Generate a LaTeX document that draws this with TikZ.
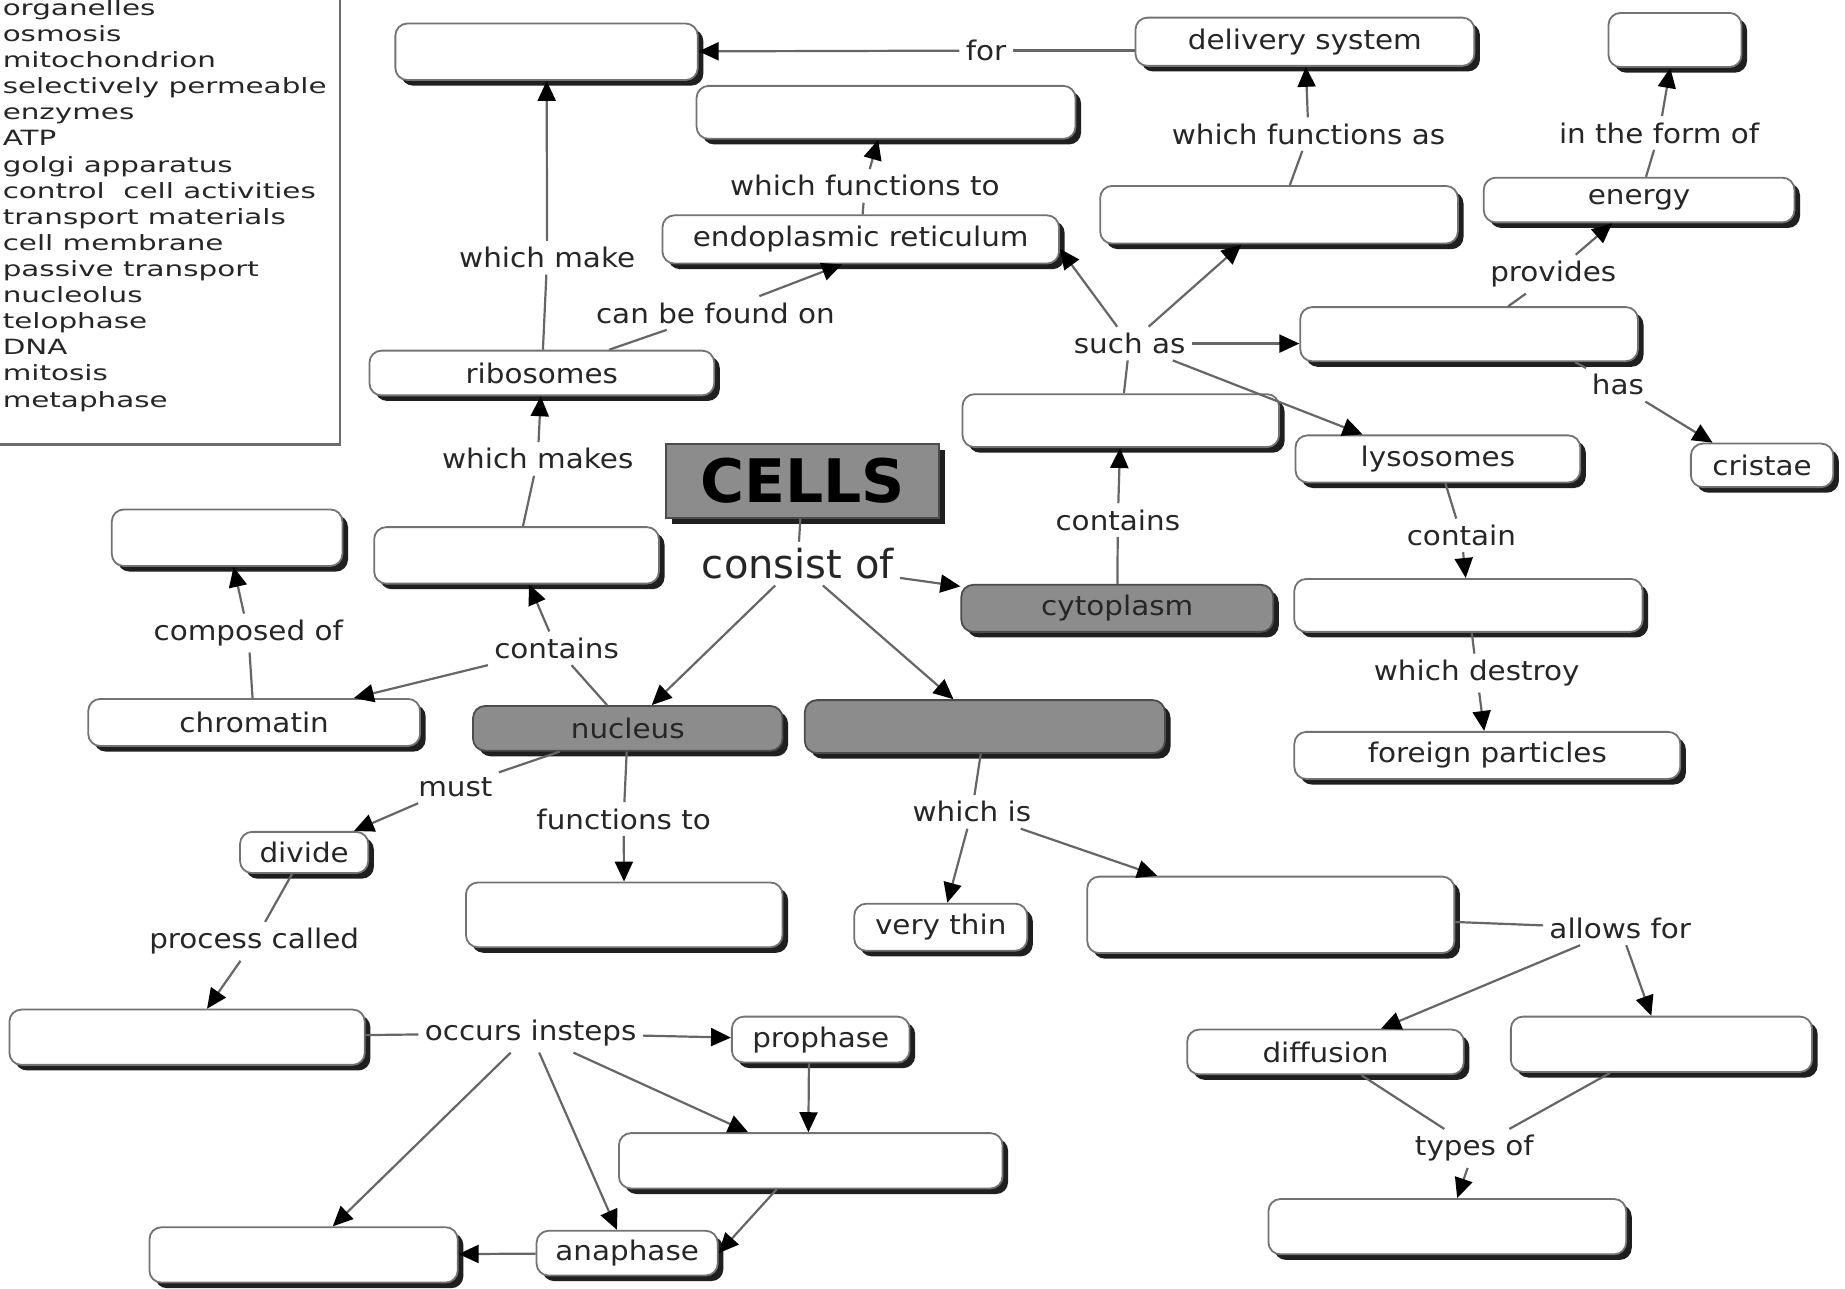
\documentclass[tikz,border=0pt]{standalone}
\usepackage{fontspec}
\usetikzlibrary{arrows.meta,shadows,calc}
\newfontfamily\lf[FakeStretch=1.09]{DejaVu Sans}
\newfontfamily\wlf[FakeStretch=1.4]{DejaVu Sans}
\newfontfamily\df{DejaVu Sans}
\newcommand\bx[7][box]{\node[#1, minimum width={(#5-#3)*0.5883pt}, minimum height={(#6-#4)*0.5883pt}] (#2) at ({(#3+#5)/2},{(#4+#6)/2}) {#7};}
\newcommand\lbn[4]{\node[lbl] (#1) at (#2,#3) {#4};}
\begin{document}
\begin{tikzpicture}[x=0.5883pt, y=-0.5883pt,
  box/.style={draw=black!55, line width=0.9pt, rounded corners=6pt, fill=white, inner sep=0pt,
    general shadow={fill=black!88, shadow xshift=2.8pt, shadow yshift=-2.8pt},
    font=\lf\fontsize{13.5}{15}\selectfont, text=black!85},
  gbox/.style={box, fill=black!45, draw=black!70},
  lbl/.style={font=\lf\fontsize{13.5}{15}\selectfont, text=black!85, inner sep=3pt},
  wl/.style={font=\wlf\fontsize{10.5}{12}\selectfont, text=black!85, inner sep=0pt},
  ln/.style={draw=black!60, line width=1.1pt},
  arr/.style={ln, -{Triangle[length=10pt,width=9pt,color=black]}}]
\useasboundingbox (0,0) rectangle (1568,1095);
\fill[white] (0,0) rectangle (1568,1095);
% word list
\draw[draw=black!58, line width=1.4pt] (-10,-10) rectangle (289,378);
\foreach \t [count=\i] in {organelles, osmosis, mitochondrion, selectively permeable, enzymes, ATP, golgi apparatus, control~ cell activities, transport materials, cell membrane, passive transport, nucleolus, telophase, DNA, mitosis, metaphase}
  \node[wl, anchor=base west] (w\i) at (2,{13+(\i-1)*22.2}) {\t};
% boxes
\bx{a1}{336}{20}{593}{68}{}
\bx{del}{965}{15}{1253}{56}{delivery system}
\bx{a2}{1367}{11}{1480}{57}{}
\bx{a3}{592}{73}{914}{118}{}
\bx{er}{563}{183}{900}{224}{endoplasmic reticulum}
\bx{g}{935}{158}{1239}{207}{}
\bx{en}{1261}{151}{1525}{189}{energy}
\bx{mi}{1105}{261}{1392}{307}{}
\bx{rib}{314}{298}{607}{336}{ribosomes}
\bx{org}{818}{335}{1087}{380}{}
\bx{lys}{1101}{370}{1343}{410}{lysosomes}
\bx{cri}{1437}{377}{1558}{414}{cristae}
\node[draw=black!70, line width=1pt, fill=black!45, inner sep=0pt,
  general shadow={fill=black!88, shadow xshift=3pt, shadow yshift=-3pt},
  minimum width={232*0.5883pt}, minimum height={63*0.5883pt},
  font=\df\bfseries\fontsize{30}{30}\selectfont] (cells) at (682,408.5) {CELLS};
\bx{dna}{95}{433}{291}{481}{}
\bx{nuo}{318}{448}{560}{496}{}
\bx[gbox]{cyto}{817}{497}{1082}{537}{cytoplasm}
\bx{enz}{1100}{492}{1396}{537}{}
\bx{chr}{75}{594}{357}{634}{chromatin}
\bx[gbox]{nuc}{402}{600}{665}{638}{nucleus}
\bx[gbox]{cm}{684}{595}{990}{640}{}
\bx{fp}{1100}{622}{1428}{662}{foreign particles}
\bx{div}{204}{707}{313}{742}{divide}
\bx{ctl}{396}{750}{665}{805}{}
\bx{vt}{726}{768}{873}{808}{very thin}
\bx{sp}{924}{745}{1236}{810}{}
\bx{mit}{8}{858}{310}{905}{}
\bx{pro}{622}{864}{773}{903}{prophase}
\bx{dif}{1009}{875}{1244}{913}{diffusion}
\bx{osm}{1284}{864}{1540}{911}{}
\bx{meta}{526}{963}{852}{1010}{}
\bx{pt}{1078}{1019}{1382}{1066}{}
\bx{tel}{127}{1043}{389}{1090}{}
\bx{ana}{456}{1046}{610}{1084}{anaphase}
% labels
\lbn{for}{838}{43}{for}
\lbn{wfa}{1112}{114}{which functions as}
\lbn{itfo}{1410}{113}{in the form of}
\lbn{wft}{735}{158}{which functions to}
\lbn{wm}{465}{219}{which make}
\lbn{cbfo}{608}{266}{can be found on}
\lbn{prov}{1320}{233}{provides}
\lbn{sa}{960}{292}{such as}
\lbn{has}{1375}{327}{has}
\lbn{wms}{457}{390}{which makes}
\node[lbl, font=\df\fontsize{20}{22}\selectfont] (cof) at (678,479) {consist of};
\lbn{ct1}{950}{442}{contains}
\lbn{ctn}{1242}{455}{contain}
\lbn{comp}{211}{538}{composed of}
\lbn{ct2}{473}{551}{contains}
\lbn{wd}{1255}{572}{which destroy}
\lbn{must}{387}{669}{must}
\lbn{ft}{530}{696}{functions to}
\lbn{wi}{826}{690}{which is}
\lbn{pc}{216}{800}{process called}
\lbn{af}{1377}{789}{allows for}
\lbn{oi}{451}{878}{occurs insteps}
\lbn{to}{1253}{976}{types of}
% connectors
\draw[ln] (del.west |- for) -- (for);
\draw[arr] (for) -- (a1);
\draw[ln] (g) -- (wfa); \draw[arr] (wfa) -- (del);
\draw[ln] (en) -- (itfo); \draw[arr] (itfo) -- (a2);
\draw[ln] (er) -- (wft); \draw[arr] (wft) -- (a3);
\draw[ln] (rib) -- (wm); \draw[arr] (wm) -- (a1);
\draw[ln] (rib) -- (cbfo); \draw[arr] (cbfo) -- ($(er.south)+(-16,0)$);
\draw[ln] (mi) -- (prov); \draw[arr] (prov) -- (en);
\draw[ln] (org) -- (sa);
\draw[arr] (sa) -- ($(er.east)+(0,8)$);
\draw[arr] (sa) -- ($(g.south)+(-32,0)$);
\draw[arr] (sa) -- (mi.west |- sa);
\draw[arr] (sa) -- ($(lys.north)+(-64,0)$);
\draw[ln] ($(mi.south)+(90,0)$) -- (has); \draw[arr] (has) -- ($(cri.north)+(-42,0)$);
\draw[ln] (nuo) -- (wms); \draw[arr] (wms) -- (rib);
\draw[ln] (cells) -- (cof);
\draw[arr] (cof) -- (cyto); \draw[arr] (cof) -- (nuc); \draw[arr] (cof) -- (cm);
\draw[ln] (cyto) -- (ct1); \draw[arr] (ct1) -- (org);
\draw[ln] (lys) -- (ctn); \draw[arr] (ctn) -- (enz);
\draw[ln] (chr) -- (comp); \draw[arr] (comp) -- (dna);
\draw[ln] (nuc) -- (ct2); \draw[arr] (ct2) -- (nuo); \draw[arr] (ct2) -- (chr);
\draw[ln] (enz) -- (wd); \draw[arr] (wd) -- (fp);
\draw[ln] (nuc) -- (must); \draw[arr] (must) -- (div);
\draw[ln] (nuc) -- (ft); \draw[arr] (ft) -- (ctl);
\draw[ln] (cm) -- (wi); \draw[arr] (wi) -- (vt); \draw[arr] (wi) -- (sp);
\draw[ln] (div) -- (pc); \draw[arr] (pc) -- (mit);
\draw[ln] (sp) -- (af); \draw[arr] (af) -- (dif); \draw[arr] (af) -- (osm);
\draw[ln] (mit) -- (oi); \draw[arr] (oi) -- (pro);
\draw[arr] (oi) -- (tel); \draw[arr] (oi) -- (ana); \draw[arr] (oi) -- (meta);
\draw[arr] ($(pro.south)+(-10,0)$) -- ($(meta.north)+(-2,0)$);
\draw[arr] ($(meta.south)+(-29,0)$) -- (ana.east);
\draw[arr] (ana) -- (tel);
\draw[ln] (dif) -- (to); \draw[ln] (osm) -- (to); \draw[arr] (to) -- (pt);
\end{tikzpicture}
\end{document}
